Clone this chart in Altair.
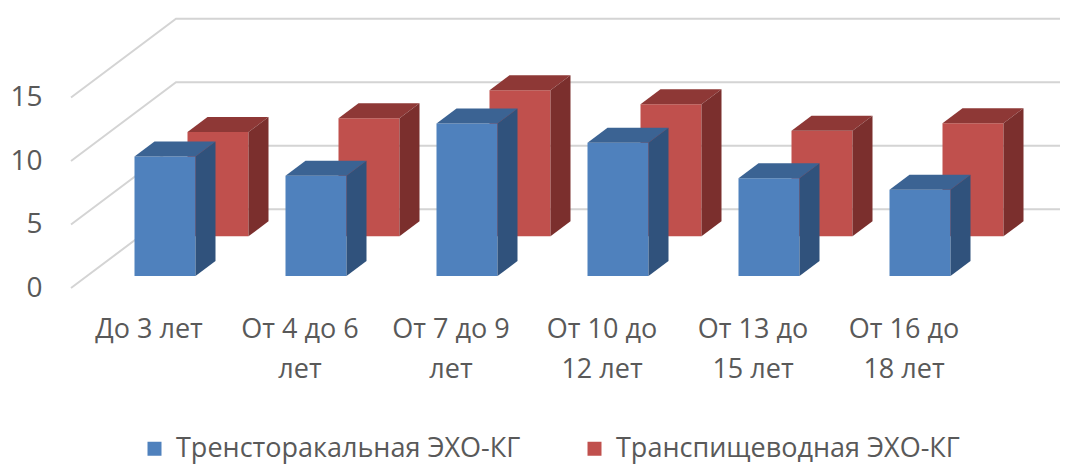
import altair as alt
import pandas as pd

# ---------------- data ----------------
categories = ["До 3 лет", "От 4 до 6 лет", "От 7 до 9 лет",
              "От 10 до 12 лет", "От 13 до 15 лет", "От 16 до 18 лет"]
label_line1 = ["До 3 лет", "От 4 до 6", "От 7 до 9", "От 10 до", "От 13 до", "От 16 до"]
label_line2 = ["", "лет", "лет", "12 лет", "15 лет", "18 лет"]
series = ["Тренсторакальная ЭХО-КГ", "Транспищеводная ЭХО-КГ"]
transthoracic = [9.4, 7.9, 12.0, 10.5, 7.7, 6.8]
transesophageal = [8.2, 9.3, 11.5, 10.4, 8.3, 8.9]
y_ticks = [0, 5, 10, 15]

# ---------------- layout (pixels of the 3D projection) ----------------
W, H = 1054, 459
PX_CAT = 151.0      # px per category
PX_UNIT = 12.7      # px per value unit
X0 = 141.0          # plot-x of category 0 (front plane)
Y0 = 280.0          # plot-y of value 0 (front plane)
SLOPE = 0.75        # oblique projection: up 0.75 px per px of depth
BAR_W = 61.0
BAR_D = 20.0
SERIES_DEPTH = [16.0, 69.0]
WALL_DEPTH = 105.0
WALL_LEFT = 63.0
WALL_RIGHT = 1052.0

x_dom = [-X0 / PX_CAT, (W - X0) / PX_CAT]
y_dom = [-(H - Y0) / PX_UNIT, Y0 / PX_UNIT]


def shift(d):
    return d / PX_CAT, SLOPE * d / PX_UNIT


FONT = "Open Sans"
TXT = "#595959"
front_col = ["#4F81BD", "#C0504D"]
top_col = ["#3B6393", "#8E3836"]
side_col = ["#30527C", "#7B2F2D"]

values = [transthoracic, transesophageal]
fronts, tops, sides = [], [], []
for s, (name, vals) in enumerate(zip(series, values)):
    du, dv = shift(SERIES_DEPTH[s])
    bu, bv = shift(BAR_D)
    hw = BAR_W / 2 / PX_CAT
    for i, v in enumerate(vals):
        xl, xr = i + du - hw, i + du + hw
        yb, yt = dv, v + dv
        key = f"b{s}_{i}"
        fronts.append(dict(series=name, s=s, xa=xl, xb=xr, ya=yb, yb=yt))
        for (x, lo, hi) in [(xl, yt, yt), (xl + bu, yt, yt + bv),
                            (xr, yt, yt + bv), (xr + bu, yt + bv, yt + bv)]:
            tops.append(dict(s=s, bar=key, px=x, lo=lo, hi=hi))
        for (x, lo, hi) in [(xr, yb, yt), (xr + bu, yb + bv, yt + bv)]:
            sides.append(dict(s=s, bar=key, px=x, lo=lo, hi=hi))

fronts = pd.DataFrame(fronts)
tops = pd.DataFrame(tops)
sides = pd.DataFrame(sides)

wu, wv = shift(WALL_DEPTH)
ul = (WALL_LEFT - X0) / PX_CAT
ur = (WALL_RIGHT - X0) / PX_CAT
grid = pd.DataFrame([dict(tick=f"t{t}", px=x, py=y) for t in y_ticks
                     for (x, y) in [(ul, t), (ul + wu, t + wv), (ur, t + wv)]])

labels = pd.DataFrame(dict(ci=list(range(len(categories))), l1=label_line1, l2=label_line2,
                           ly1=[(Y0 - 330) / PX_UNIT] * len(categories),
                           ly2=[(Y0 - 370) / PX_UNIT] * len(categories)))

xs = alt.Scale(domain=x_dom, nice=False, zero=False)
ys = alt.Scale(domain=y_dom, nice=False, zero=False)
y_axis = alt.Axis(values=y_ticks, offset=-34, domain=False, ticks=False,
                  labelPadding=0, grid=False, title=None, labelFontSize=28,
                  labelColor=TXT, labelFont=FONT)


def Y(field):
    return alt.Y(field, scale=ys, axis=y_axis)


def X(field):
    return alt.X(field, scale=xs, axis=None)


grid_layer = alt.Chart(grid).mark_line(color="#D4D4D4", strokeWidth=2).encode(
    x=X("px:Q"), y=Y("py:Q"), detail="tick:N")

color_enc = alt.Color("series:N", scale=alt.Scale(domain=series, range=front_col),
                      legend=alt.Legend(orient="none", legendX=133, legendY=427,
                                        direction="horizontal", title=None, padding=0,
                                        symbolType="square", symbolSize=196,
                                        symbolStrokeWidth=0,
                                        labelFontSize=27,
                                        labelColor=TXT, labelFont=FONT, labelOffset=8,
                                        columnPadding=60, labelLimit=0))


def bar_layers(s):
    f = alt.Chart(fronts).transform_filter(alt.datum.s == s).mark_rect().encode(
        x=X("xa:Q"), x2="xb:Q", y=Y("ya:Q"), y2="yb:Q", color=color_enc)
    t = alt.Chart(tops).transform_filter(alt.datum.s == s).mark_area(color=top_col[s]).encode(
        x=X("px:Q"), y=Y("lo:Q"), y2="hi:Q", detail="bar:N")
    sd = alt.Chart(sides).transform_filter(alt.datum.s == s).mark_area(color=side_col[s]).encode(
        x=X("px:Q"), y=Y("lo:Q"), y2="hi:Q", detail="bar:N")
    return [f, t, sd]


text1 = alt.Chart(labels).mark_text(
    align="center", baseline="alphabetic", fontSize=27, font=FONT, color=TXT).encode(
    x=X("ci:Q"), y=Y("ly1:Q"), text="l1:N")
text2 = alt.Chart(labels).mark_text(
    align="center", baseline="alphabetic", fontSize=27, font=FONT, color=TXT).encode(
    x=X("ci:Q"), y=Y("ly2:Q"), text="l2:N")

chart = alt.layer(grid_layer, *bar_layers(1), *bar_layers(0), text1, text2).properties(
    width=W, height=H, padding=0, autosize=alt.AutoSizeParams(type="none"),
    background="white").configure_view(stroke=None)

chart.save("out.html", embed_options={"renderer": "svg", "actions": False})
